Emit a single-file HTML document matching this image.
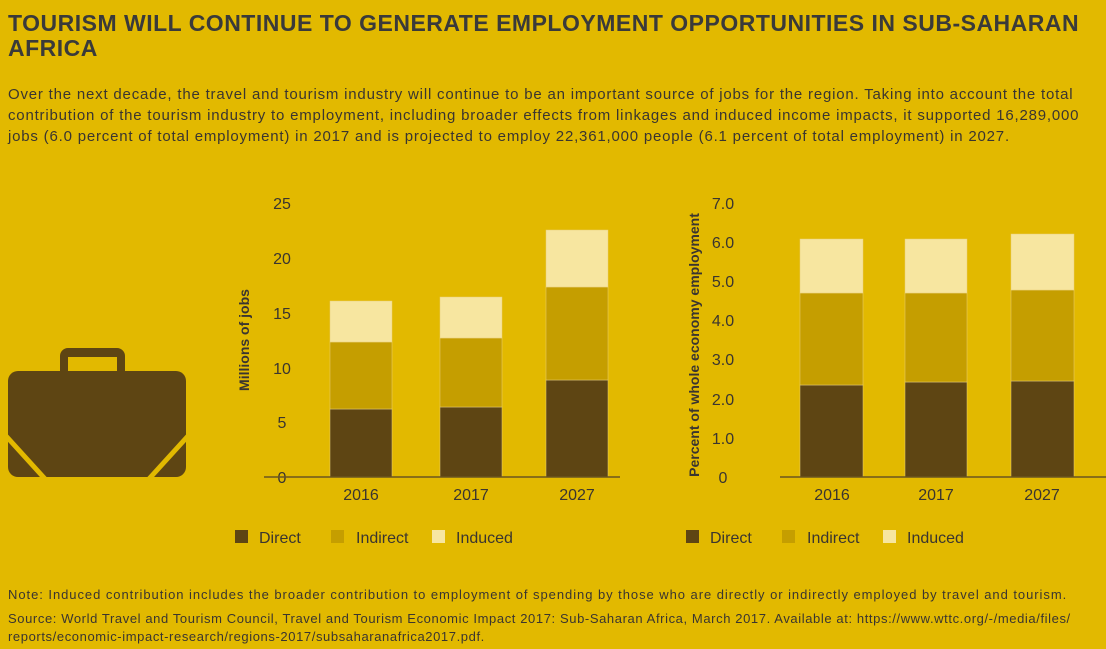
<!DOCTYPE html>
<html><head><meta charset="utf-8"><style>
body{margin:0;width:1106px;height:649px;background:#E2B900;font-family:"Liberation Sans",sans-serif;color:#3a3530;position:relative;overflow:hidden}
h1{position:absolute;left:8px;top:11px;margin:0;font-size:23px;line-height:25px;font-weight:bold;color:#3a3a3a;width:1095px;letter-spacing:0.5px}
.p{position:absolute;left:8px;top:84px;font-size:15px;line-height:21px;white-space:nowrap;letter-spacing:0.8px}
.n{position:absolute;left:8px;font-size:13px;line-height:18px;letter-spacing:1px;white-space:nowrap}
</style></head><body>
<h1>TOURISM WILL CONTINUE TO GENERATE EMPLOYMENT OPPORTUNITIES IN SUB-SAHARAN AFRICA</h1>
<div class="p">Over the next decade, the travel and tourism industry will continue to be an important source of jobs for the region. Taking into account the total<br>contribution of the tourism industry to employment, including broader effects from linkages and induced income impacts, it supported 16,289,000<br>jobs (6.0 percent of total employment) in 2017 and is projected to employ 22,361,000 people (6.1 percent of total employment) in 2027.</div>
<svg width="1106" height="649" style="position:absolute;left:0;top:0" font-family="Liberation Sans, sans-serif" fill="#3a3530">
<rect x="60" y="348" width="65" height="35" rx="8" fill="#5E4513"/>
<rect x="68" y="357" width="49" height="20" fill="#E2B900"/>
<rect x="8" y="371" width="178" height="106" rx="10" fill="#5E4513"/>
<line x1="6" y1="436" x2="46" y2="480" stroke="#E2B900" stroke-width="5"/>
<line x1="188" y1="436" x2="148" y2="480" stroke="#E2B900" stroke-width="5"/>
<g font-size="16" text-anchor="middle">
<text x="282" y="209">25</text><text x="282" y="264">20</text><text x="282" y="319">15</text><text x="282" y="374">10</text><text x="282" y="428">5</text><text x="282" y="483">0</text>
</g>
<text transform="translate(249,340) rotate(-90)" font-size="14" font-weight="bold" text-anchor="middle">Millions of jobs</text>
<g stroke="#E8D07a" stroke-width="0.5">
<rect x="330" y="409" width="62" height="68" fill="#5E4513"/><rect x="330" y="342" width="62" height="67" fill="#C59E00"/><rect x="330" y="301" width="62" height="41" fill="#F7E6A0"/>
<rect x="440" y="407" width="62" height="70" fill="#5E4513"/><rect x="440" y="338" width="62" height="69" fill="#C59E00"/><rect x="440" y="297" width="62" height="41" fill="#F7E6A0"/>
<rect x="546" y="380" width="62" height="97" fill="#5E4513"/><rect x="546" y="287" width="62" height="93" fill="#C59E00"/><rect x="546" y="230" width="62" height="57" fill="#F7E6A0"/>
</g>
<line x1="264" y1="477" x2="620" y2="477" stroke="#6a5520" stroke-width="1.5"/>
<g font-size="16" text-anchor="middle"><text x="361" y="500">2016</text><text x="471" y="500">2017</text><text x="577" y="500">2027</text></g>
<g font-size="16">
<rect x="235" y="530" width="13" height="13" fill="#5E4513"/><text x="259" y="543">Direct</text>
<rect x="331" y="530" width="13" height="13" fill="#C59E00"/><text x="356" y="543">Indirect</text>
<rect x="432" y="530" width="13" height="13" fill="#F7E6A0"/><text x="456" y="543">Induced</text>
</g>
<g font-size="16" text-anchor="middle">
<text x="723" y="209">7.0</text><text x="723" y="248">6.0</text><text x="723" y="287">5.0</text><text x="723" y="326">4.0</text><text x="723" y="365">3.0</text><text x="723" y="405">2.0</text><text x="723" y="444">1.0</text><text x="723" y="483">0</text>
</g>
<text transform="translate(699,345) rotate(-90)" font-size="14" font-weight="bold" text-anchor="middle">Percent of whole economy employment</text>
<g stroke="#E8D07a" stroke-width="0.5">
<rect x="800" y="385" width="63" height="92" fill="#5E4513"/><rect x="800" y="293" width="63" height="92" fill="#C59E00"/><rect x="800" y="239" width="63" height="54" fill="#F7E6A0"/>
<rect x="905" y="382" width="62" height="95" fill="#5E4513"/><rect x="905" y="293" width="62" height="89" fill="#C59E00"/><rect x="905" y="239" width="62" height="54" fill="#F7E6A0"/>
<rect x="1011" y="381" width="63" height="96" fill="#5E4513"/><rect x="1011" y="290" width="63" height="91" fill="#C59E00"/><rect x="1011" y="234" width="63" height="56" fill="#F7E6A0"/>
</g>
<line x1="780" y1="477" x2="1106" y2="477" stroke="#6a5520" stroke-width="1.5"/>
<g font-size="16" text-anchor="middle"><text x="832" y="500">2016</text><text x="936" y="500">2017</text><text x="1042" y="500">2027</text></g>
<g font-size="16">
<rect x="686" y="530" width="13" height="13" fill="#5E4513"/><text x="710" y="543">Direct</text>
<rect x="782" y="530" width="13" height="13" fill="#C59E00"/><text x="807" y="543">Indirect</text>
<rect x="883" y="530" width="13" height="13" fill="#F7E6A0"/><text x="907" y="543">Induced</text>
</g>
</svg>
<div class="n" style="top:586px;letter-spacing:0.95px">Note: Induced contribution includes the broader contribution to employment of spending by those who are directly or indirectly employed by travel and tourism.</div>
<div class="n" style="top:610px;letter-spacing:0.6px">Source: World Travel and Tourism Council, Travel and Tourism Economic Impact 2017: Sub-Saharan Africa, March 2017. Available at: https://www.wttc.org/-/media/files/<br>reports/economic-impact-research/regions-2017/subsaharanafrica2017.pdf.</div>
</body></html>
